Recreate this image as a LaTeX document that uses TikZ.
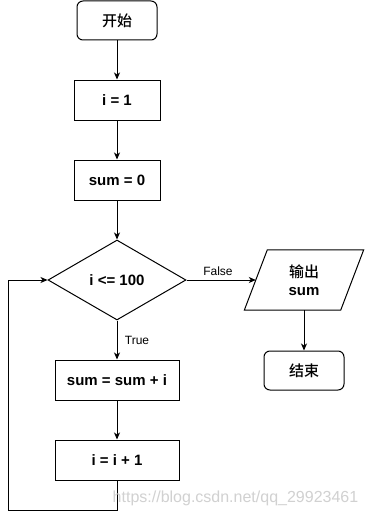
\documentclass[tikz,border=0pt]{standalone}
\usepackage{fontspec}
\setmainfont{Liberation Sans}
\newfontfamily\cjk{Noto Sans CJK SC}[BoldFont={Noto Sans CJK SC Medium}]
\usetikzlibrary{shapes.geometric,arrows.meta,calc}
\begin{document}
\begin{tikzpicture}[x=1pt,y=-1pt,
  base/.style={draw=black,line width=1pt,font=\fontsize{15}{18}\selectfont\bfseries,align=center,inner sep=0pt},
  procbox/.style={base,rectangle,minimum width=86pt,minimum height=40pt},
  termbox/.style={base,rectangle,rounded corners=6pt,minimum width=80pt,minimum height=39pt},
  decbox/.style={base,diamond,aspect=1.7,minimum width=138pt,minimum height=80pt},
  iobox/.style={font=\fontsize{15}{18}\selectfont\bfseries,align=center,inner sep=0pt,rectangle,minimum width=96pt,minimum height=60pt},
  arr/.style={line width=1pt,-{Stealth[length=7pt,width=6pt,inset=2pt]}},
  lbl/.style={font=\fontsize{12}{14}\selectfont,inner sep=0pt}]
\useasboundingbox (0,0) rectangle (365,519);
\fill[white] (0,0) rectangle (365,519);
\node[termbox] (start) at (117,20.5) {\cjk 开始};
\node[procbox] (i1) at (117,100) {i = 1};
\node[procbox] (s0) at (117,180) {sum = 0};
\node[decbox] (dec) at (117,280) {i <= 100};
\node[procbox,minimum width=124pt] (add) at (117,380) {sum = sum + i};
\node[procbox,minimum width=124pt] (inc) at (117,460) {i = i + 1};
\node[iobox] (out) at (304,280) {{\cjk 输出}\\sum};
\draw[line width=1pt] ($(out.north west)+(11.5,0)$) -- ($(out.north east)+(11.5,0)$) -- ($(out.south east)+(-11.5,0)$) -- ($(out.south west)+(-11.5,0)$) -- cycle;
\node[termbox] (end) at (304,370.5) {\cjk 结束};
\coordinate (lb) at (8,510);
\draw[arr] (start) -- (i1);
\draw[arr] (i1) -- (s0);
\draw[arr] (s0) -- (dec);
\draw[arr] (dec) -- (add);
\draw[arr] (add) -- (inc);
\draw[arr] (dec.east) -- (out.west);
\draw[arr] (out.south) -- (end);
\draw[arr] (inc.south) |- (lb) |- (dec.west);
\node[lbl] (fl) at (218,271) {False};
\node[lbl] (tl) at (137,340) {True};
\node[font=\fontsize{16}{18}\selectfont,text=black!18,inner sep=0pt] (wm) at (235.5,498) {https://blog.csdn.net/qq\_29923461};
\end{tikzpicture}
\end{document}
